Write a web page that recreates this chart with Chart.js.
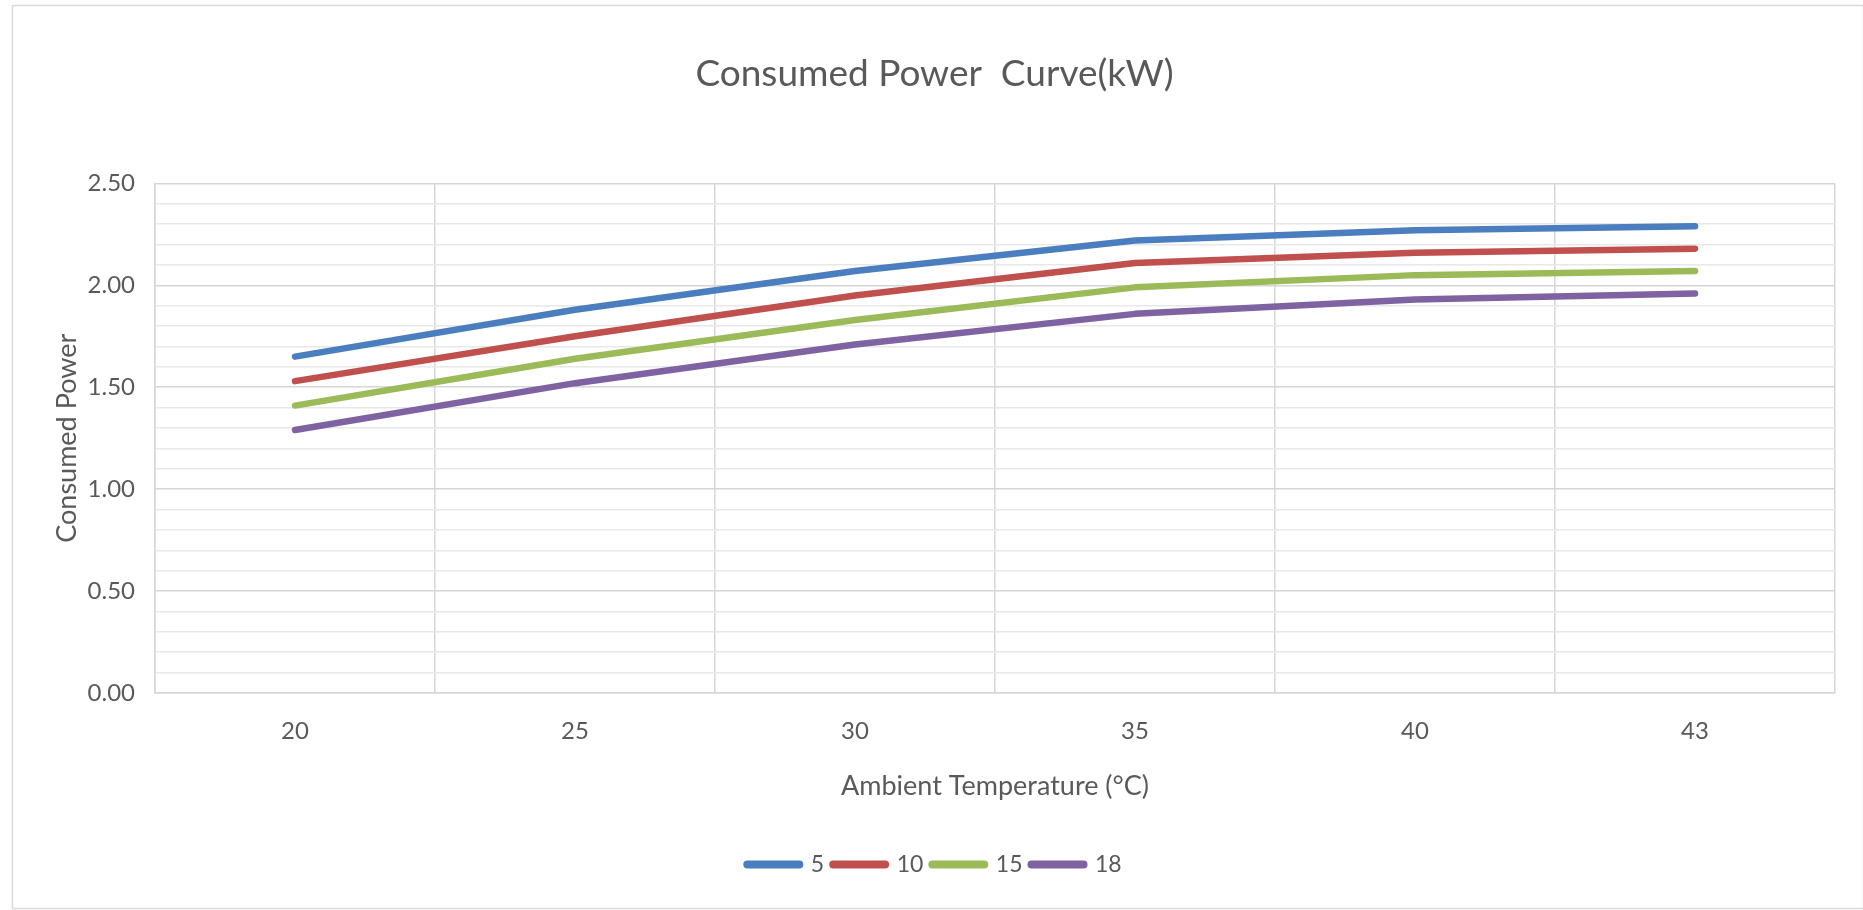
<!DOCTYPE html>
<html>
<head>
<meta charset="utf-8">
<script src="https://cdn.jsdelivr.net/npm/chart.js@4/dist/chart.umd.min.js"></script>
<style>
  html, body { margin: 0; padding: 0; background: #ffffff; }
  #wrap { position: relative; width: 1863px; height: 910px; }
</style>
</head>
<body>
<div id="wrap"><canvas id="chart" width="1863" height="910"></canvas></div>
<script>
// Ambient temperature categories (°C)
const temperatures = ['20', '25', '30', '35', '40', '43'];

// Series names (legend labels)
const seriesNames = ['5', '10', '15', '18'];

// Consumed power (kW) per series
const power5  = [1.65, 1.88, 2.07, 2.22, 2.27, 2.29];
const power10 = [1.53, 1.75, 1.95, 2.11, 2.16, 2.18];
const power15 = [1.41, 1.64, 1.83, 1.99, 2.05, 2.07];
const power18 = [1.29, 1.52, 1.71, 1.86, 1.93, 1.96];

const seriesValues = [power5, power10, power15, power18];
const seriesColors = ['#4A7EBF', '#C0504D', '#9BBB59', '#7F62A1'];

const FONT = 'Lato, "Open Sans", sans-serif';
const TEXT = '#595959';

// Thin frame around the whole chart
const framePlugin = {
  id: 'frame',
  beforeDraw(chart) {
    const ctx = chart.ctx;
    ctx.save();
    ctx.fillStyle = '#ffffff';
    ctx.fillRect(0, 0, chart.width, chart.height);
    ctx.strokeStyle = '#d9d9d9';
    ctx.lineWidth = 1.5;
    ctx.strokeRect(12.5, 5.5, chart.width - 12, chart.height - 7);
    ctx.restore();
  }
};

const isMajor = v => Math.abs(v * 2 - Math.round(v * 2)) < 1e-6;

const datasets = seriesNames.map((name, i) => ({
  label: name,
  data: seriesValues[i],
  borderColor: seriesColors[i],
  backgroundColor: seriesColors[i],
  borderWidth: 6.5,
  borderCapStyle: 'round',
  borderJoinStyle: 'round',
  pointRadius: 0,
  pointHoverRadius: 0,
  tension: 0,
  fill: false
}));

new Chart(document.getElementById('chart'), {
  type: 'line',
  data: { labels: temperatures, datasets },
  plugins: [framePlugin],
  options: {
    responsive: false,
    animation: false,
    layout: { padding: { left: 34, right: 28, top: 0, bottom: 24 } },
    plugins: {
      tooltip: { enabled: false },
      title: {
        display: true,
        text: 'Consumed Power  Curve(kW)',
        color: TEXT,
        font: { family: FONT, size: 37, weight: 'normal' },
        padding: { top: 52, bottom: 87 }
      },
      legend: {
        position: 'bottom',
        labels: {
          usePointStyle: true,
          pointStyle: 'line',
          pointStyleWidth: 52,
          boxHeight: 23,
          padding: 9,
          color: TEXT,
          font: { family: FONT, size: 23 },
          generateLabels(chart) {
            const items = Chart.defaults.plugins.legend.labels.generateLabels(chart);
            items.forEach(it => { it.lineWidth = 8; it.lineCap = 'round'; it.pointStyle = 'line'; });
            return items;
          }
        }
      }
    },
    scales: {
      x: {
        type: 'category',
        offset: true,
        afterFit(scale) { scale.height = 151; },
        grid: { offset: true, color: '#d6d6d6', lineWidth: 1.5, drawTicks: false },
        border: { color: '#d6d6d6', width: 1.5 },
        ticks: { color: TEXT, padding: 24, font: { family: FONT, size: 24 }, maxRotation: 0 },
        title: {
          display: true,
          text: 'Ambient Temperature (\u00B0C)',
          color: TEXT,
          font: { family: FONT, size: 27 },
          padding: { top: 0, bottom: 42 }
        }
      },
      y: {
        min: 0,
        max: 2.5,
        afterFit(scale) { scale.width = 121; },
        grid: {
          drawTicks: false,
          lineWidth: 1.5,
          color(ctx) {
            const v = ctx.tick ? ctx.tick.value : 0;
            return isMajor(v) ? '#d6d6d6' : '#e8e8e8';
          }
        },
        border: { color: '#d6d6d6', width: 1.5 },
        ticks: {
          stepSize: 0.1,
          autoSkip: false,
          padding: 20,
          color: TEXT,
          font: { family: FONT, size: 24 },
          callback(value) {
            return isMajor(value) ? value.toFixed(2) : '';
          }
        },
        title: {
          display: true,
          text: 'Consumed Power',
          color: TEXT,
          font: { family: FONT, size: 27 },
          padding: { top: 17, bottom: 0 }
        }
      }
    }
  }
});
</script>
</body>
</html>
